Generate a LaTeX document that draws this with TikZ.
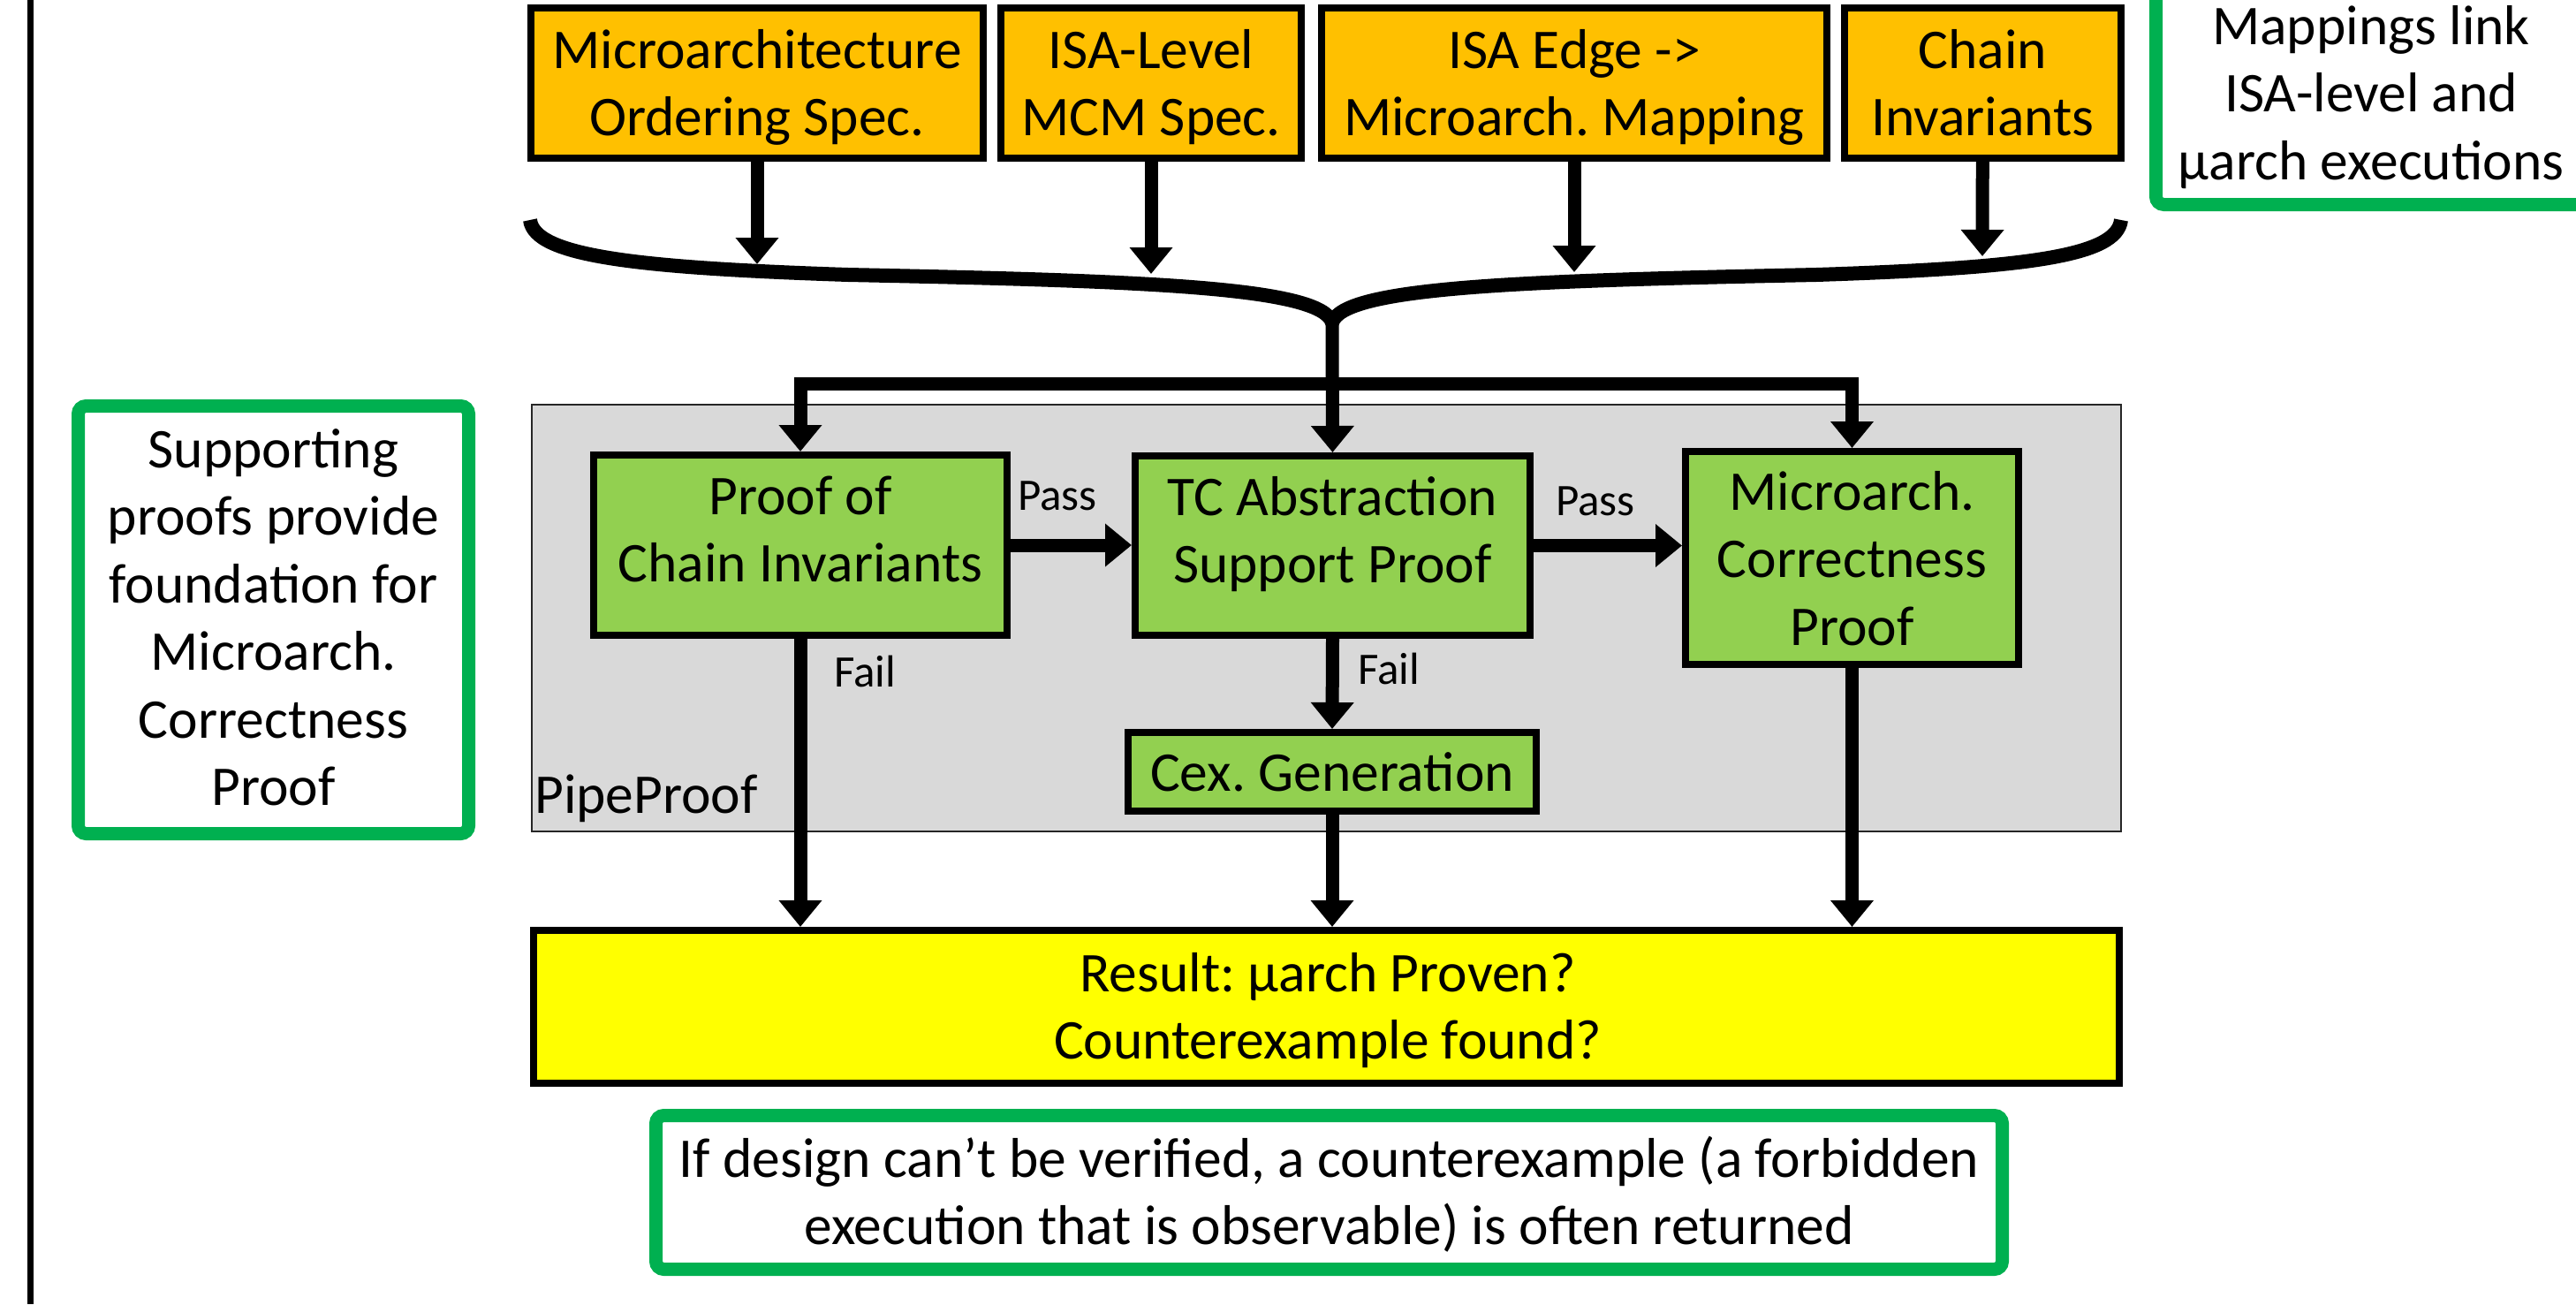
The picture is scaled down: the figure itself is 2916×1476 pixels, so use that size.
\documentclass[tikz,border=0pt]{standalone}
\usepackage{fontspec}
\setmainfont{Carlito}
\usetikzlibrary{arrows.meta}
\frenchspacing

\definecolor{specorange}{HTML}{FFC000}
\definecolor{proofgreen}{HTML}{92D050}
\definecolor{resultyellow}{HTML}{FFFF00}
\definecolor{notegreen}{HTML}{00B050}
\definecolor{pipegrey}{HTML}{D9D9D9}

\newcommand{\bigtext}{\fontsize{63.5pt}{76.5pt}\selectfont}
\newcommand{\smalltext}{\fontsize{51pt}{61pt}\selectfont}

% multi-line text nodes are placed by the baseline of their last line
\tikzset{
  box/.style={draw=black, line width=8pt, inner sep=0pt},
  specbox/.style={box, fill=specorange},
  proofbox/.style={box, fill=proofgreen},
  resultbox/.style={box, fill=resultyellow},
  notebox/.style={draw=notegreen, line width=15pt, fill=white, rounded corners=9pt, inner sep=0pt},
  pipebox/.style={draw=black!85, line width=2.5pt, fill=pipegrey, inner sep=0pt},
  txt/.style={font=\bigtext, align=center, inner sep=0pt, anchor=base},
  lbl/.style={font=\smalltext, inner sep=0pt, anchor=base west},
  conn/.style={line width=15pt, -{Triangle[length=30pt,width=47pt]}},
  bracestroke/.style={line width=16pt, line cap=butt, line join=round},
}

\begin{document}
\begin{tikzpicture}[x=1pt, y=-1pt]
  \useasboundingbox (0,0) rectangle (2916,1476);
  \clip (0,0) rectangle (2916,1476);

  % left margin rule
  \draw[line width=7pt] (34,0) -- (34,1476);

  % input specifications
  \node[specbox, minimum width=512pt, minimum height=170pt] (t1) at (857,94) {};
  \node[specbox, minimum width=340pt, minimum height=170pt] (t2) at (1303,94) {};
  \node[specbox, minimum width=572pt, minimum height=170pt] (t3) at (1782,94) {};
  \node[specbox, minimum width=313pt, minimum height=170pt] (t4) at (2244.5,94) {};
  \node[txt] (t1text) at ([yshift=-148.5pt]t1.north) {Microarchitecture\\Ordering Spec.};
  \node[txt] (t2text) at ([yshift=-148.5pt]t2.north) {ISA-Level\\MCM Spec.};
  \node[txt] (t3text) at ([yshift=-148.5pt]t3.north) {ISA Edge ->\\Microarch. Mapping};
  \node[txt] (t4text) at ([yshift=-148.5pt]t4.north) {Chain\\Invariants};

  % note on mappings
  \node[notebox, minimum width=492pt, minimum height=264pt] (mapnote) at (2686.5,99.5) {};
  \node[txt] (mapnotetext) at (2684,203) {Mappings link\\ISA-level and\\µarch executions};

  % gathering brace
  \coordinate (b1) at (857,299);
  \coordinate (b2) at (1303,310);
  \coordinate (b3) at (1782,308);
  \coordinate (b4) at (2244,290);
  \coordinate (tip) at (1508,358);
  \coordinate (bar) at (1508,434);
  \draw[bracestroke] (600,249) .. controls (605,290) and (720,303) .. (960,311)
    .. controls (1300,318) and (1495,325) .. (1508,365)
    .. controls (1521,325) and (1716,318) .. (2056,311)
    .. controls (2296,303) and (2396,290) .. (2401,249);
  \draw[conn] (t1) -- (b1);
  \draw[conn] (t2) -- (b2);
  \draw[conn] (t3) -- (b3);
  \draw[conn] (t4) -- (b4);

  % PipeProof region
  \node[pipebox, minimum width=1799pt, minimum height=483pt] (pipe) at (1501.5,699.5) {};
  \node[txt, anchor=base west] (pipetext) at (605,920) {PipeProof};

  \node[proofbox, minimum width=468pt, minimum height=204pt] (p1) at (906,617) {};
  \node[proofbox, minimum width=447pt, minimum height=203pt] (p2) at (1508.5,617.5) {};
  \node[proofbox, minimum width=377pt, minimum height=241pt] (p3) at (2096.5,631.5) {};
  \node[proofbox, minimum width=462pt, minimum height=89pt] (cex) at (1508,873.5) {};
  \node[txt] (p1text) at ([yshift=-147.5pt]p1.north) {Proof of\\Chain Invariants};
  \node[txt] (p2text) at ([yshift=-147.5pt]p2.north) {TC Abstraction\\Support Proof};
  \node[txt] (p3text) at ([yshift=-223pt]p3.north) {Microarch.\\Correctness\\Proof};
  \node[txt] (cextext) at ([yshift=-70pt]cex.north) {Cex. Generation};

  % distribution of the inputs
  \draw[conn] (tip) -- (p2.north);
  \draw[conn] (bar) -| (p1.north);
  \draw[conn] (bar) -| (p3.north);

  % flow between proofs
  \draw[conn] (p1.east) -- (p1.east -| p2.west);
  \draw[conn] (p2.east) -- (p2.east -| p3.west);
  \draw[conn] (p2.south) -- (cex.north);
  \node[lbl] (pass1) at (1152,577) {Pass};
  \node[lbl] (pass2) at (1761,583) {Pass};
  \node[lbl] (fail1) at (944,777) {Fail};
  \node[lbl] (fail2) at (1537,774) {Fail};

  % result
  \node[resultbox, minimum width=1795pt, minimum height=173pt] (result) at (1501.5,1139.5) {};
  \node[txt] (resulttext) at (1503,1198.5) {Result: µarch Proven?\\Counterexample found?};
  \draw[conn] (p1.south) -- (p1.south |- result.north);
  \draw[conn] (cex.south) -- (cex.south |- result.north);
  \draw[conn] (p3.south) -- (p3.south |- result.north);

  % side notes
  \node[notebox, minimum width=442pt, minimum height=484pt] (supnote) at (309.5,701.5) {};
  \node[txt] (supnotetext) at ([yshift=-459.5pt]supnote.north) {Supporting\\proofs provide\\foundation for\\Microarch.\\Correctness\\Proof};
  \node[notebox, minimum width=1524pt, minimum height=174pt] (cexnote) at (1504.5,1349.5) {};
  \node[txt] (cexnotetext) at ([yshift=-153.5pt]cexnote.north) {If design can’t be verified, a counterexample (a forbidden\\execution that is observable) is often returned};
\end{tikzpicture}
\end{document}
